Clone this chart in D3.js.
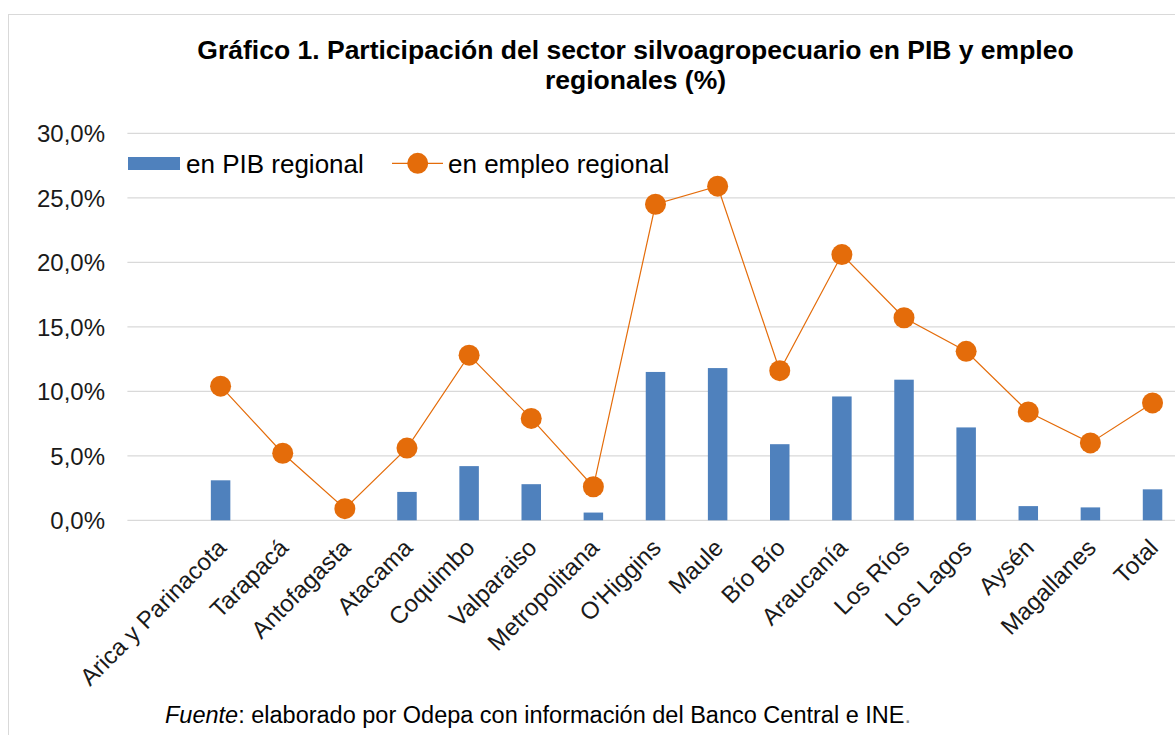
<!DOCTYPE html>
<html>
<head>
<meta charset="utf-8">
<script src="https://cdn.jsdelivr.net/npm/d3@7"></script>
<style>
  html, body { margin: 0; padding: 0; background: #fff; }
  svg { display: block; font-family: Arial, "Liberation Sans", sans-serif; }
</style>
</head>
<body>
<svg id="chart" width="1175" height="735"></svg>
<script>
// ---- data ----
const categories = ["Arica y Parinacota", "Tarapacá", "Antofagasta", "Atacama", "Coquimbo",
  "Valparaiso", "Metropolitana", "O'Higgins", "Maule", "Bío Bío", "Araucanía",
  "Los Ríos", "Los Lagos", "Aysén", "Magallanes", "Total"];
const pibRegional = [3.1, null, null, 2.2, 4.2, 2.8, 0.6, 11.5, 11.8, 5.9, 9.6, 10.9, 7.2, 1.1, 1.0, 2.4];
const empleoRegional = [10.4, 5.2, 0.9, 5.6, 12.8, 7.9, 2.6, 24.5, 25.9, 11.6, 20.6, 15.7, 13.1, 8.4, 6.0, 9.1];
const yTicks = [0, 5, 10, 15, 20, 25, 30];
const seriesNames = ["en PIB regional", "en empleo regional"];
const titleLines = ["Gráfico 1. Participación del sector silvoagropecuario en PIB y empleo", "regionales (%)"];

// ---- layout ----
const W = 1175, H = 735;
const plotLeft = 127.4, plotRight = 1183.6, plotTop = 133.3, plotBottom = 520.3;
const step = (plotRight - plotLeft) / (categories.length + 1);
const barColor = "#4F81BD", lineColor = "#E46C0A";

const svg = d3.select("#chart");

// outer chart border (cropped on right/bottom)
svg.append("rect").attr("x", 8.5).attr("y", 14.5).attr("width", 1300).attr("height", 900)
  .attr("fill", "#fff").attr("stroke", "#D9D9D9").attr("stroke-width", 1);

const x = d3.scaleBand().domain(categories).range([plotLeft + step, plotRight]).padding(0);
const y = d3.scaleLinear().domain([0, 30]).range([plotBottom, plotTop]);

// gridlines
svg.append("g").selectAll("line").data(yTicks).join("line")
  .attr("x1", plotLeft).attr("x2", W)
  .attr("y1", d => y(d)).attr("y2", d => y(d))
  .attr("stroke", "#D9D9D9").attr("stroke-width", 1.3);

// y axis labels
const yAxis = d3.axisLeft(y).tickValues(yTicks).tickSize(0).tickPadding(0)
  .tickFormat(d => d.toFixed(1).replace(".", ",") + "%");
const gy = svg.append("g").attr("transform", `translate(105,0)`).call(yAxis);
gy.select(".domain").remove();
gy.selectAll("text").attr("font-size", 24).attr("fill", "#1a1a1a")
  .attr("font-family", "Arial, 'Liberation Sans', sans-serif").attr("dy", "0.35em");

// x axis labels
const xAxis = d3.axisBottom(x).tickSize(0).tickPadding(0);
const gx = svg.append("g").attr("transform", `translate(0,${plotBottom})`).call(xAxis);
gx.select(".domain").remove();
gx.selectAll("text")
  .attr("font-size", 24).attr("fill", "#1a1a1a")
  .attr("font-family", "Arial, 'Liberation Sans', sans-serif")
  .attr("text-anchor", "end")
  .attr("y", 0).attr("dy", "0.71em")
  .attr("transform", "translate(-5,17) rotate(-45)");

// bars
const barW = 19.5;
svg.append("g").selectAll("rect")
  .data(categories.map((c, i) => ({ c, v: pibRegional[i] })).filter(d => d.v != null))
  .join("rect")
  .attr("x", d => x(d.c) + x.bandwidth() / 2 - barW / 2)
  .attr("y", d => y(d.v))
  .attr("width", barW)
  .attr("height", d => y(0) - y(d.v))
  .attr("fill", barColor);

// line
const pts = categories.map((c, i) => ({ c, v: empleoRegional[i] }));
svg.append("path").datum(pts)
  .attr("fill", "none").attr("stroke", lineColor).attr("stroke-width", 1.2)
  .attr("d", d3.line().x(d => x(d.c) + x.bandwidth() / 2).y(d => y(d.v)));
svg.append("g").selectAll("circle").data(pts).join("circle")
  .attr("cx", d => x(d.c) + x.bandwidth() / 2).attr("cy", d => y(d.v))
  .attr("r", 10.5).attr("fill", lineColor);

// legend
const lg = svg.append("g");
lg.append("rect").attr("x", 128).attr("y", 157).attr("width", 52).attr("height", 13).attr("fill", barColor);
lg.append("text").attr("x", 186).attr("y", 172.5).attr("font-size", 26).attr("fill", "#000").text(seriesNames[0]);
lg.append("line").attr("x1", 392).attr("x2", 443).attr("y1", 163.3).attr("y2", 163.3)
  .attr("stroke", lineColor).attr("stroke-width", 1.2);
lg.append("circle").attr("cx", 417.7).attr("cy", 163.3).attr("r", 10.5).attr("fill", lineColor);
lg.append("text").attr("x", 448).attr("y", 172.5).attr("font-size", 26).attr("fill", "#000").text(seriesNames[1]);

// title
const tg = svg.append("g").attr("font-weight", "bold").attr("font-size", 26.5).attr("text-anchor", "middle").attr("fill", "#000");
tg.append("text").attr("x", 635.5).attr("y", 59).text(titleLines[0]);
tg.append("text").attr("x", 635.5).attr("y", 89).text(titleLines[1]);

// source
const src = svg.append("text").attr("x", 165).attr("y", 723).attr("font-size", 23.5).attr("fill", "#000");
src.append("tspan").attr("font-style", "italic").text("Fuente");
src.append("tspan").text(": elaborado por Odepa con información del Banco Central e INE");
src.append("tspan").attr("fill", "#8c8c8c").text(".");
</script>
</body>
</html>
